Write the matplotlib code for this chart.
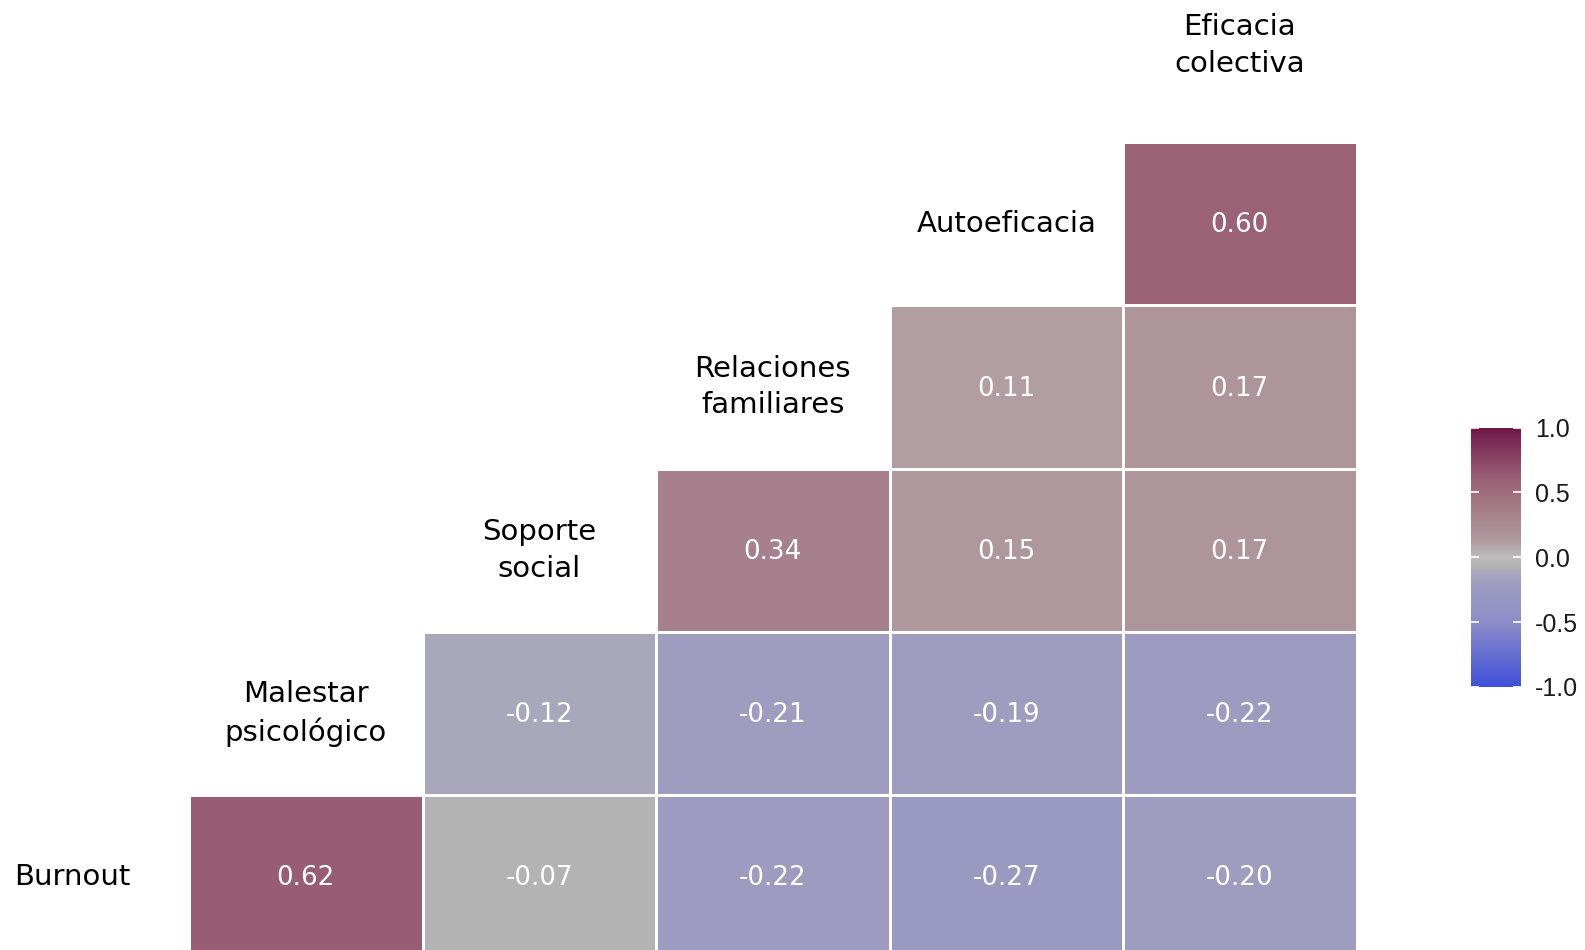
import numpy as np
import matplotlib
matplotlib.use('Agg')
from matplotlib import pyplot as plt
from matplotlib.colors import LinearSegmentedColormap, Normalize

variables = ["Burnout", "Malestar\npsicológico", "Soporte\nsocial",
             "Relaciones\nfamiliares", "Autoeficacia", "Eficacia\ncolectiva"]

# lower triangle, row = first variable, values vs the following variables
r_burnout = [0.62, -0.07, -0.22, -0.27, -0.20]
r_malestar = [-0.12, -0.21, -0.19, -0.22]
r_soporte = [0.34, 0.15, 0.17]
r_relaciones = [0.11, 0.17]
r_autoeficacia = [0.60]
rows = [r_burnout, r_malestar, r_soporte, r_relaciones, r_autoeficacia]

cbar_ticks = [-1.0, -0.5, 0.0, 0.5, 1.0]

n = len(rows)
mat = np.full((n, n), np.nan)
for i, vals in enumerate(rows):
	for k, v in enumerate(vals):
		mat[i, i + k] = v
mat = np.ma.masked_invalid(mat)

anchors = [(-1.0, "#3f4fd8"), (-0.5, "#8d8ec9"), (-0.2, "#9e9cbf"), (-0.12, "#a8a7bc"),
		   (-0.07, "#b3b3b3"), (0.0, "#bcbcbc"), (0.12, "#b09ba1"), (0.35, "#a67f8b"),
		   (0.6, "#9b6175"), (1.0, "#6e1848")]
cmap = LinearSegmentedColormap.from_list("corr", [((a + 1) / 2, c) for a, c in anchors])
norm = Normalize(-1, 1)

W, H = 1585, 950
fig = plt.figure(figsize=(W / 100, H / 100), dpi=100)
x0, x1, ytop, ybot = 189, 1356.5, 142, 958.5
ax = fig.add_axes([x0 / W, (H - ybot) / H, (x1 - x0) / W, (ybot - ytop) / H])
ax.pcolormesh(np.arange(n + 1), np.arange(n + 1), mat, cmap=cmap, norm=norm,
			  edgecolor="white", linewidth=2)
ax.set_xlim(0, n)
ax.set_ylim(0, n)
ax.axis("off")

for i in range(n):
	for j in range(n):
		if not np.ma.is_masked(mat[i, j]):
			ax.text(j + 0.5, i + 0.49, "{0:.2f}".format(mat[i, j]), color="white",
					ha="center", va="center", fontsize=18.8, family="DejaVu Sans")

for k, name in enumerate(variables):
	y = k + 0.5
	if k == n:
		y += 0.09
	ax.text(k - 0.5, y, name, ha="center", va="center", fontsize=21, color="black",
			family="DejaVu Sans", linespacing=1.4, clip_on=False)

cax = fig.add_axes([1471 / W, (H - 687) / H, 50 / W, 259.5 / H])
sm = plt.cm.ScalarMappable(norm=norm, cmap=cmap)
cb = fig.colorbar(sm, cax=cax, ticks=cbar_ticks)
cb.outline.set_visible(False)
cax.yaxis.set_ticks_position("both")
cax.tick_params(axis="y", direction="in", length=6, width=1.2, color="white",
				labelsize=18, labelcolor="#1a1a1a", pad=10, labelleft=False, labelright=True)
cax.set_yticklabels(["{0:.1f}".format(v) for v in cbar_ticks], family="Liberation Sans")

plt.savefig("out.png", dpi=100)
